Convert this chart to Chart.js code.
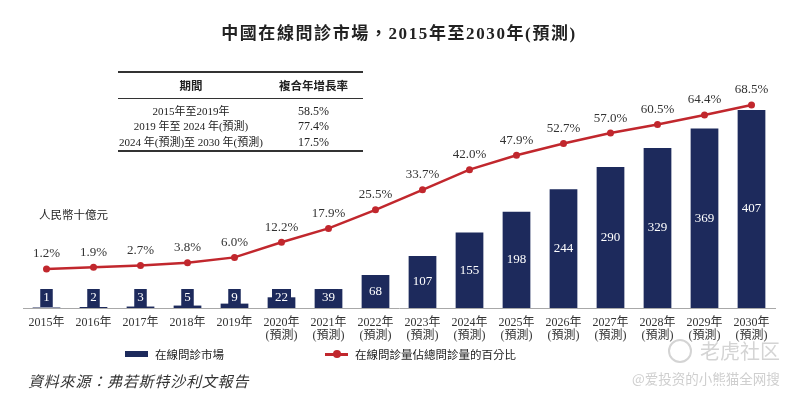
<html>
  <head>
    <script src="https://cdn.jsdelivr.net/npm/chart.js@4/dist/chart.umd.min.js"></script>
    <style>
      body,
      html {
        margin: 0;
        padding: 0;
        background: #fff;
        font-family: "Liberation Serif", "Noto Sans CJK TC", serif;
        color: #222;
      }
      .page {
        position: relative;
        width: 798px;
        height: 393px;
        overflow: hidden;
      }
      #marketChart {
        position: absolute;
        left: 0;
        top: 0;
      }
      .title {
        position: absolute;
        left: 0;
        width: 798px;
        top: 19px;
        text-align: center;
        font-size: 17px;
        font-weight: bold;
        letter-spacing: 1.6px;
      }
      .cagr {
        position: absolute;
        left: 118px;
        top: 71px;
        width: 245px;
        border-collapse: collapse;
        font-size: 11px;
        color: #222;
        table-layout: fixed;
      }
      .cagr th {
        font-weight: bold;
        height: 26px;
        padding: 0;
        border-top: 2px solid #333;
        border-bottom: 1.5px solid #333;
        font-size: 11.5px;
      }
      .cagr td {
        text-align: center;
        height: 16px;
        padding: 0;
        line-height: 15px;
        white-space: nowrap;
      }
      .cagr tr:nth-child(2) td {
        padding-top: 5px;
      }
      .cagr tr:last-child td {
        border-bottom: 2px solid #333;
      }
      .cagr td.v {
        font-size: 12px;
      }
      .unit {
        position: absolute;
        left: 39px;
        top: 206px;
        font-size: 11.5px;
      }
      .legend {
        position: absolute;
        top: 346px;
        font-size: 11.5px;
        display: flex;
        align-items: center;
      }
      .swatch {
        display: inline-block;
        width: 23px;
        height: 6px;
        background: #1d2a5c;
        margin-right: 7px;
      }
      .lineSwatch {
        position: relative;
        display: inline-block;
        width: 23px;
        height: 3px;
        background: #c1272d;
        margin-right: 7px;
      }
      .lineSwatch::after {
        content: "";
        position: absolute;
        left: 8px;
        top: -2.5px;
        width: 8px;
        height: 8px;
        border-radius: 50%;
        background: #c1272d;
      }
      .source {
        position: absolute;
        left: 28px;
        top: 370px;
        font-size: 15px;
        font-style: italic;
        letter-spacing: 0.8px;
        color: #333;
      }
      .wm1 {
        position: absolute;
        left: 668px;
        top: 336px;
        font-size: 20px;
        color: #d4d4d4;
        font-family: "Noto Sans CJK SC", sans-serif;
        white-space: nowrap;
        display: flex;
        align-items: center;
      }
      .wm1 .logo {
        display: inline-block;
        width: 20px;
        height: 20px;
        border: 2px solid #d4d4d4;
        border-radius: 50%;
        margin-right: 8px;
      }
      .wm2 {
        position: absolute;
        left: 632px;
        top: 368px;
        font-size: 13.5px;
        color: #cfcfcf;
        font-family: "Noto Sans CJK SC", sans-serif;
        white-space: nowrap;
      }
    </style>
  </head>
  <body>
    <div class="page">
      <canvas id="marketChart" width="798" height="393"></canvas>
      <div class="title">中國在線問診市場，2015年至2030年(預測)</div>
      <table class="cagr" id="cagrTable"></table>
      <div class="unit">人民幣十億元</div>
      <div class="legend" style="left: 125px"><span class="swatch"></span>在線問診市場</div>
      <div class="legend" style="left: 325px"><span class="lineSwatch"></span>在線問診量佔總問診量的百分比</div>
      <div class="source">資料來源：弗若斯特沙利文報告</div>
      <div class="wm1"><span class="logo"></span>老虎社区</div>
      <div class="wm2">@爱投资的小熊猫全网搜</div>
    </div>

    <script>
      const years = [2015, 2016, 2017, 2018, 2019, 2020, 2021, 2022, 2023, 2024, 2025, 2026, 2027, 2028, 2029, 2030];
      const firstForecastYear = 2020;
      const marketSize = [1, 2, 3, 5, 9, 22, 39, 68, 107, 155, 198, 244, 290, 329, 369, 407];
      const sharePct = [1.2, 1.9, 2.7, 3.8, 6.0, 12.2, 17.9, 25.5, 33.7, 42.0, 47.9, 52.7, 57.0, 60.5, 64.4, 68.5];

      const cagrPeriods = ["2015年至2019年", "2019 年至 2024 年(預測)", "2024 年(預測)至 2030 年(預測)"];
      const cagrValues = ["58.5%", "77.4%", "17.5%"];

      const navy = "#1d2a5c";
      const red = "#c1272d";
      const serif = "'Liberation Serif', 'Noto Sans CJK TC', serif";

      // CAGR table
      var rows = '<colgroup><col style="width:146px"><col></colgroup>';
      rows += '<tr><th>期間</th><th>複合年增長率</th></tr>';
      cagrPeriods.forEach(function (p, i) {
        rows += "<tr><td>" + p + '</td><td class="v">' + cagrValues[i] + "</td></tr>";
      });
      document.getElementById("cagrTable").innerHTML = rows;

      const xLabels = years.map(function (y) {
        return y >= firstForecastYear ? [y + "年", "(預測)"] : y + "年";
      });

      // value labels inside bars + percent labels above points
      const labelPlugin = {
        id: "labels",
        afterDatasetsDraw(chart) {
          const c = chart.ctx;
          c.save();
          c.textAlign = "center";
          c.textBaseline = "middle";
          c.font = "13px " + serif;

          const barMeta = chart.getDatasetMeta(1);
          barMeta.data.forEach(function (bar, i) {
            const txt = String(marketSize[i]);
            const h = bar.base - bar.y;
            var cy = bar.y + h / 2;
            if (h < 22) {
              cy = bar.base - 10;
              const w = c.measureText(txt).width + 6;
              c.fillStyle = navy;
              c.fillRect(bar.x - w / 2, cy - 9, w, 18);
            }
            c.fillStyle = "#fff";
            c.fillText(txt, bar.x, cy);
          });

          const lineMeta = chart.getDatasetMeta(0);
          c.fillStyle = "#333";
          lineMeta.data.forEach(function (pt, i) {
            c.fillText(sharePct[i].toFixed(1) + "%", pt.x, pt.y - 15);
          });
          c.restore();
        },
      };

      const ctx = document.getElementById("marketChart").getContext("2d");
      var marketChart = new Chart(ctx, {
        type: "bar",
        data: {
          labels: xLabels,
          datasets: [
            {
              type: "line",
              label: "在線問診量佔總問診量的百分比",
              data: sharePct,
              yAxisID: "y2",
              borderColor: red,
              backgroundColor: red,
              borderWidth: 2.5,
              pointRadius: 3.5,
              pointBackgroundColor: red,
              pointBorderWidth: 0,
              tension: 0,
              order: 0,
            },
            {
              label: "在線問診市場",
              data: marketSize,
              yAxisID: "y",
              backgroundColor: navy,
              barPercentage: 0.59,
              categoryPercentage: 1,
              order: 1,
            },
          ],
        },
        options: {
          responsive: false,
          animation: false,
          layout: {
            padding: { top: 80, left: 23, right: 23, bottom: 45 },
          },
          plugins: {
            legend: { display: false },
            tooltip: { enabled: false },
          },
          scales: {
            x: {
              grid: { display: false, drawTicks: false },
              border: { display: true, color: "#a8a8a8", width: 1 },
              ticks: {
                padding: 8,
                color: "#333",
                maxRotation: 0,
                autoSkip: false,
                font: { family: serif, size: 12, lineHeight: 1.1 },
              },
              afterFit: function (scale) {
                scale.height = 40;
              },
            },
            y: {
              display: false,
              min: 0,
              max: 468.7,
            },
            y2: {
              display: false,
              min: -14.77,
              max: 78.78,
            },
          },
        },
        plugins: [labelPlugin],
      });
    </script>
  </body>
</html>
